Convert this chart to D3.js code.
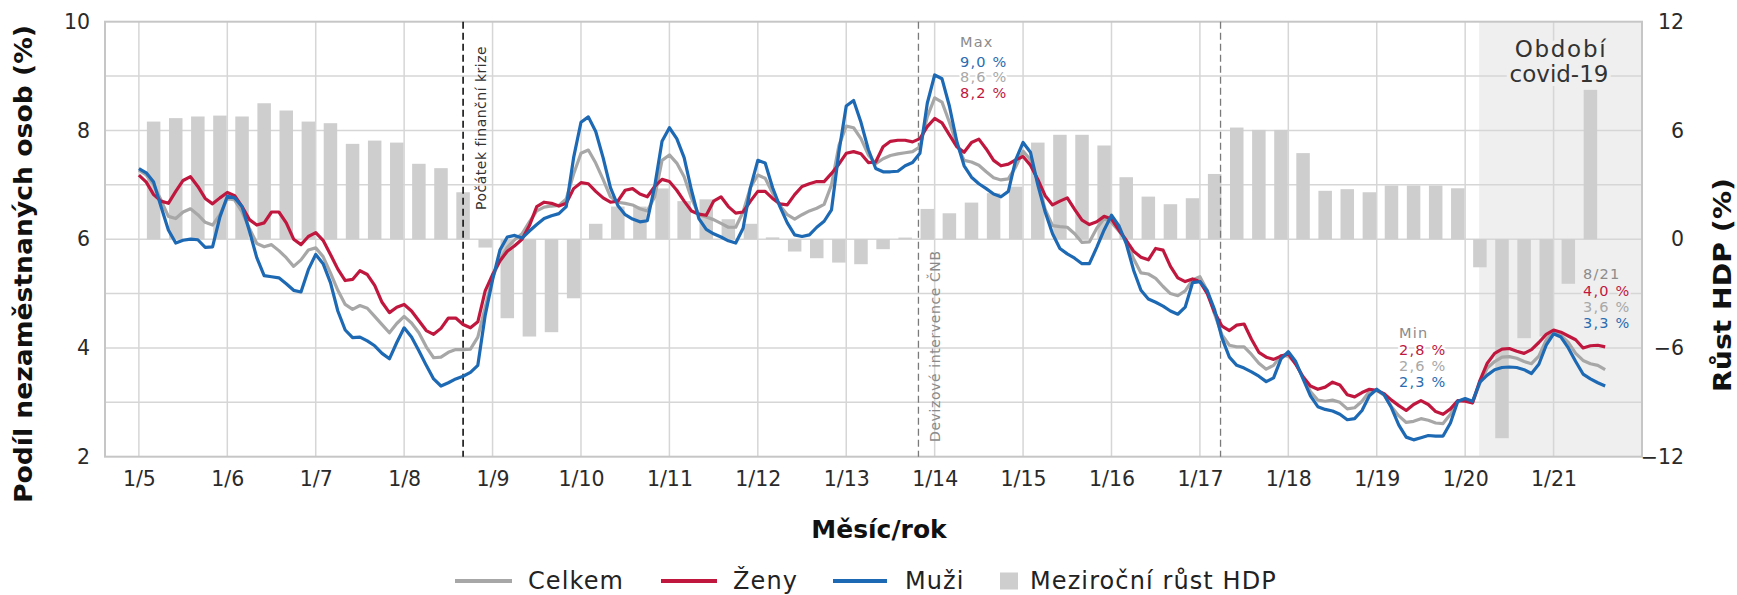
<!DOCTYPE html>
<html>
<head>
<meta charset="utf-8">
<script src="https://cdn.jsdelivr.net/npm/d3@7"></script>
<style>
  body { margin: 0; background: #fff; }
  svg { display: block; font-family: "DejaVu Sans", sans-serif; }
</style>
</head>
<body>
<svg width="1737" height="595"></svg>
<script>
// monthly unemployment share, 1/2005 .. 8/2021 (%)
var celkem = [
  7.27, 7.18, 7.0, 6.72, 6.42, 6.38, 6.5, 6.56, 6.45, 6.31,
  6.26, 6.45, 6.75, 6.72, 6.5, 6.2, 5.92, 5.86, 5.9, 5.79,
  5.66, 5.5, 5.62, 5.8, 5.84, 5.68, 5.38, 5.06, 4.8, 4.71,
  4.78, 4.73, 4.58, 4.43, 4.28, 4.45, 4.58, 4.46, 4.28, 4.02,
  3.82, 3.83, 3.92, 3.97, 3.97, 3.98, 4.2, 4.75, 5.3, 5.62,
  5.85, 5.99, 6.1, 6.32, 6.52, 6.59, 6.61, 6.62, 6.74, 7.2,
  7.58, 7.64, 7.4, 7.1, 6.78, 6.68, 6.66, 6.63, 6.56, 6.52,
  6.78, 7.45, 7.55, 7.4, 7.15, 6.75, 6.45, 6.41, 6.36, 6.29,
  6.22, 6.22, 6.5, 6.95, 7.18, 7.12, 6.85, 6.62, 6.45, 6.37,
  6.45, 6.52, 6.57, 6.64, 7.0, 7.72, 8.08, 8.05, 7.85, 7.55,
  7.39, 7.48, 7.54, 7.57, 7.59, 7.61, 7.7, 8.25, 8.6, 8.52,
  8.15, 7.75, 7.45, 7.42, 7.36, 7.24, 7.13, 7.09, 7.11, 7.33,
  7.62, 7.46, 7.05, 6.55, 6.25, 6.23, 6.22, 6.1, 5.94, 5.95,
  6.2, 6.38, 6.31, 6.15, 5.98, 5.64, 5.38, 5.36, 5.28, 5.13,
  5.0, 4.96, 5.05, 5.25, 5.31, 5.05, 4.62, 4.24, 4.05, 4.02,
  4.02, 3.88, 3.72, 3.61, 3.68, 3.86, 3.85, 3.72, 3.45, 3.2,
  3.04, 3.02, 3.04, 3.0, 2.88, 2.9, 3.02, 3.2, 3.22, 3.13,
  2.92, 2.75, 2.63, 2.65, 2.7, 2.67, 2.62, 2.61, 2.78, 3.02,
  3.05, 2.99, 3.35, 3.63, 3.75, 3.83, 3.84, 3.81, 3.75, 3.71,
  3.85, 4.15, 4.29, 4.23, 4.1, 3.9, 3.77, 3.71, 3.68, 3.6
];
var zeny = [
  7.18, 7.05, 6.82, 6.7, 6.66, 6.88, 7.08, 7.15, 6.97, 6.75,
  6.65, 6.76, 6.86, 6.8, 6.6, 6.36, 6.26, 6.3, 6.5, 6.5,
  6.3, 6.0, 5.9, 6.05, 6.12, 5.98, 5.72, 5.45, 5.24, 5.26,
  5.42, 5.35, 5.15, 4.84, 4.65, 4.75, 4.8, 4.68, 4.5, 4.32,
  4.25, 4.36, 4.55, 4.55, 4.43, 4.37, 4.48, 5.05, 5.35, 5.6,
  5.78, 5.88, 6.0, 6.25, 6.6, 6.68, 6.66, 6.61, 6.66, 6.93,
  7.04, 7.02, 6.88, 6.76, 6.68, 6.7, 6.9, 6.93, 6.83, 6.78,
  6.97, 7.1, 7.06, 6.9, 6.7, 6.52, 6.46, 6.44, 6.7, 6.78,
  6.6, 6.48, 6.5, 6.7, 6.88, 6.88, 6.75, 6.65, 6.63, 6.82,
  6.97, 7.02, 7.06, 7.06, 7.21, 7.38, 7.58, 7.61, 7.57, 7.41,
  7.42, 7.7, 7.8, 7.82, 7.82, 7.79, 7.85, 8.07, 8.22, 8.14,
  7.92, 7.7, 7.6, 7.78, 7.84, 7.66, 7.45, 7.35, 7.38, 7.46,
  7.52, 7.36, 7.1, 6.8, 6.63, 6.7, 6.76, 6.55, 6.35, 6.27,
  6.32, 6.42, 6.37, 6.17, 5.98, 5.78, 5.67, 5.62, 5.83, 5.8,
  5.5, 5.29, 5.22, 5.27, 5.22, 5.0, 4.65, 4.4, 4.32, 4.42,
  4.44, 4.16, 3.92, 3.83, 3.79, 3.85, 3.89, 3.7, 3.47, 3.3,
  3.24, 3.28, 3.37, 3.32, 3.14, 3.1, 3.18, 3.24, 3.22, 3.16,
  3.04, 2.94, 2.85, 2.96, 3.03, 2.96, 2.83, 2.78, 2.88, 3.03,
  3.02, 2.99, 3.4, 3.72, 3.9, 3.98, 3.99, 3.94, 3.9, 3.97,
  4.1, 4.25, 4.33, 4.29, 4.22, 4.15, 4.0, 4.04, 4.05, 4.02
];
var muzi = [
  7.3, 7.22, 7.05, 6.6, 6.17, 5.93, 5.98, 6.0, 5.99, 5.85,
  5.86, 6.41, 6.79, 6.76, 6.6, 6.15, 5.66, 5.33, 5.31, 5.29,
  5.18, 5.06, 5.03, 5.44, 5.72, 5.55, 5.2, 4.68, 4.33, 4.19,
  4.2, 4.13, 4.04, 3.9, 3.8, 4.1, 4.37, 4.2, 3.95, 3.68,
  3.43, 3.3, 3.36, 3.43, 3.48, 3.55, 3.68, 4.6, 5.25, 5.8,
  6.04, 6.07, 6.02, 6.15, 6.27, 6.38, 6.43, 6.47, 6.6, 7.5,
  8.15, 8.25, 7.98, 7.5, 6.95, 6.62, 6.45, 6.37, 6.32, 6.34,
  6.97, 7.8, 8.05, 7.85, 7.5, 6.9, 6.38, 6.18, 6.1, 6.04,
  5.97, 5.93, 6.2, 6.95, 7.45, 7.4, 6.95, 6.6, 6.3, 6.08,
  6.05, 6.08, 6.22, 6.33, 6.54, 7.6, 8.45, 8.55, 8.15, 7.65,
  7.3, 7.24, 7.24, 7.25, 7.35, 7.41, 7.58, 8.5, 9.02, 8.95,
  8.45, 7.8, 7.35, 7.14, 7.02, 6.93, 6.83, 6.78, 6.88, 7.46,
  7.78, 7.6, 7.0, 6.5, 6.1, 5.83, 5.73, 5.65, 5.55, 5.55,
  5.85, 6.17, 6.44, 6.25, 5.92, 5.43, 5.06, 4.9, 4.84, 4.77,
  4.68, 4.62, 4.75, 5.2, 5.22, 5.05, 4.7, 4.18, 3.83, 3.68,
  3.63, 3.56, 3.48, 3.38, 3.45, 3.8, 3.93, 3.75, 3.43, 3.12,
  2.92, 2.87, 2.84, 2.78, 2.68, 2.7, 2.85, 3.12, 3.24, 3.14,
  2.9, 2.58, 2.36, 2.31, 2.35, 2.39, 2.38, 2.38, 2.62, 3.02,
  3.07, 3.02, 3.37, 3.5, 3.6, 3.64, 3.65, 3.64, 3.6, 3.53,
  3.7, 4.05, 4.26, 4.2, 4.0, 3.75, 3.52, 3.43, 3.36, 3.3
];
// quarterly GDP growth y/y, Q1 2005 .. Q2 2021 (%)
var hdp = [
  6.49, 6.68, 6.77, 6.82,
  6.77, 7.5, 7.1, 6.49,
  6.4, 5.26, 5.44, 5.33,
  4.16, 3.92, 2.59, -0.46,
  -4.36, -5.37, -5.13, -3.26,
  0.85, 1.8, 1.8, 2.8,
  2.1, 2.2, 1.1, 0.85,
  0.1, -0.68, -1.05, -1.29,
  -1.38, -0.55, 0.09, 1.67,
  1.43, 2.02, 2.54, 2.9,
  5.33, 5.76, 5.76, 5.17,
  3.42, 2.35, 1.93, 2.26,
  3.6, 6.16, 6.03, 6.03,
  4.75, 2.67, 2.76, 2.59,
  2.96, 2.96, 2.96, 2.81,
  -1.55, -10.98, -5.46, -5.37,
  -2.46, 8.24
];
var tickLabels = ['1/5', '1/6', '1/7', '1/8', '1/9', '1/10', '1/11', '1/12', '1/13',
  '1/14', '1/15', '1/16', '1/17', '1/18', '1/19', '1/20', '1/21'];
var leftTicks = [2, 4, 6, 8, 10];
var rightTicks = [-12, -6, 0, 6, 12];
// month index counted from 1/2005
var events = [
  { label: 'Počátek finanční krize', month: 44 },
  { label: 'Devizové intervence ČNB', month: 105.8 },
  { label: '', month: 146.8 }
];
var covidStart = 181.9;

var svg = d3.select('svg');
var L = 105, R = 1642, T = 21.7, B = 456.7;
var barW = 13.5;

var x = d3.scaleLinear().domain([-4.6, 204]).range([L, R]);
var y = d3.scaleLinear().domain([2, 10]).range([B, T]);
var y2 = d3.scaleLinear().domain([-12, 12]).range([B, T]);

// covid period background
svg.append('rect')
  .attr('x', x(covidStart)).attr('y', T)
  .attr('width', R - x(covidStart)).attr('height', B - T)
  .attr('fill', '#efefef');

// grid
var grid = svg.append('g').attr('stroke', '#d6d6d6').attr('stroke-width', 1.5);
grid.selectAll('line.h')
  .data(d3.range(3, 10))
  .enter().append('line')
    .attr('x1', L).attr('x2', R)
    .attr('y1', function(d) { return y(d); })
    .attr('y2', function(d) { return y(d); });
grid.selectAll('line.v')
  .data(tickLabels)
  .enter().append('line')
    .attr('x1', function(d, i) { return x(i * 12); })
    .attr('x2', function(d, i) { return x(i * 12); })
    .attr('y1', T).attr('y2', B);

// GDP bars, centred on the last month of each quarter
svg.append('g').selectAll('rect')
  .data(hdp)
  .enter().append('rect')
    .attr('x', function(d, i) { return x(i * 3 + 2) - barW / 2; })
    .attr('y', function(d) { return y2(Math.max(0, d)); })
    .attr('width', barW)
    .attr('height', function(d) { return Math.abs(y2(d) - y2(0)); })
    .attr('fill', '#cecece');

// frame
svg.append('rect')
  .attr('x', L).attr('y', T).attr('width', R - L).attr('height', B - T)
  .attr('fill', 'none').attr('stroke', '#c6c6c6').attr('stroke-width', 2);

// event lines
svg.selectAll('line.event')
  .data(events)
  .enter().append('line')
    .attr('x1', function(d) { return x(d.month); })
    .attr('x2', function(d) { return x(d.month); })
    .attr('y1', T).attr('y2', B)
    .attr('stroke', function(d, i) { return i === 0 ? '#111' : '#7a7a7a'; })
    .attr('stroke-width', function(d, i) { return i === 0 ? 1.6 : 1.3; })
    .attr('stroke-dasharray', '7,4');

svg.append('text')
  .attr('transform', 'translate(' + (x(events[0].month) + 22.5) + ',210) rotate(-90)')
  .attr('font-size', 14).attr('letter-spacing', 0.5).attr('fill', '#333')
  .text(events[0].label);
svg.append('text')
  .attr('transform', 'translate(' + (x(events[1].month) + 22) + ',442) rotate(-90)')
  .attr('font-size', 14).attr('letter-spacing', 0.6).attr('fill', '#8a8a8a')
  .text(events[1].label);

// unemployment lines
var line = d3.line()
  .x(function(d, i) { return x(i); })
  .y(function(d) { return y(d); });

[[celkem, '#a7a7a7'], [zeny, '#c0173f'], [muzi, '#1d69b3']].forEach(function(s) {
  svg.append('path')
    .datum(s[0])
    .attr('d', line)
    .attr('fill', 'none')
    .attr('stroke', s[1])
    .attr('stroke-width', 3.2)
    .attr('stroke-linejoin', 'round');
});

// axes
var axL = svg.append('g')
  .attr('transform', 'translate(' + L + ',0)')
  .call(d3.axisLeft(y).tickValues(leftTicks).tickSize(0).tickPadding(15));
var axR = svg.append('g')
  .attr('transform', 'translate(' + R + ',0)')
  .call(d3.axisRight(y2).tickValues(rightTicks).tickSize(0).tickPadding(42));
axR.selectAll('text').attr('text-anchor', 'end');
var axB = svg.append('g')
  .attr('transform', 'translate(0,' + B + ')')
  .call(d3.axisBottom(x).tickValues(d3.range(0, tickLabels.length * 12, 12))
    .tickFormat(function(d, i) { return tickLabels[i]; })
    .tickSize(0).tickPadding(15));
[axL, axR, axB].forEach(function(ax) {
  ax.select('.domain').remove();
  ax.selectAll('text')
    .attr('font-family', '"DejaVu Sans", sans-serif')
    .attr('font-size', 20.5)
    .attr('fill', '#2a2a2a');
});

// axis titles
svg.append('text')
  .attr('transform', 'translate(32,264) rotate(-90)')
  .attr('text-anchor', 'middle').attr('font-size', 25).attr('font-weight', 'bold').attr('fill', '#111')
  .attr('textLength', 478).attr('lengthAdjust', 'spacingAndGlyphs')
  .text('Podíl nezaměstnaných osob (%)');
svg.append('text')
  .attr('transform', 'translate(1731,285) rotate(-90)')
  .attr('text-anchor', 'middle').attr('font-size', 25).attr('font-weight', 'bold').attr('fill', '#111')
  .attr('textLength', 214).attr('lengthAdjust', 'spacingAndGlyphs')
  .text('Růst HDP (%)');
svg.append('text')
  .attr('x', 879).attr('y', 538)
  .attr('text-anchor', 'middle').attr('font-size', 25).attr('font-weight', 'bold').attr('fill', '#111')
  .text('Měsíc/rok');

// annotations
function note(lines, xPos, ys, halo) {
  var g = svg.append('g')
    .attr('font-size', 14.5).attr('letter-spacing', 1.2);
  lines.forEach(function(l, i) {
    g.append('text')
      .attr('x', xPos).attr('y', ys[i])
      .attr('fill', l[1])
      .attr('stroke', halo).attr('stroke-width', 4).attr('paint-order', 'stroke')
      .text(l[0]);
  });
}
var cGray = '#8c8c8c', cRed = '#c0173f', cLight = '#a8a8a8', cBlue = '#2b6cb0';
note([['Max', cGray], ['9,0 %', cBlue], ['8,6 %', cLight], ['8,2 %', cRed]],
  960, [47, 66.5, 82, 98], '#fff');
note([['Min', cGray], ['2,8 %', cRed], ['2,6 %', cLight], ['2,3 %', cBlue]],
  1399, [338, 355, 371, 387], '#fff');
note([['8/21', cGray], ['4,0 %', cRed], ['3,6 %', cLight], ['3,3 %', cBlue]],
  1583, [279, 296, 312, 328], '#efefef');

var covidLabel = svg.append('g')
  .attr('font-size', 23).attr('fill', '#333').attr('text-anchor', 'middle');
covidLabel.append('text').attr('x', 1561).attr('y', 57).attr('letter-spacing', 1.7)
  .attr('stroke', '#efefef').attr('stroke-width', 8).attr('paint-order', 'stroke')
  .text('Období');
covidLabel.append('text').attr('x', 1559).attr('y', 82)
  .attr('stroke', '#efefef').attr('stroke-width', 8).attr('paint-order', 'stroke')
  .text('covid-19');

// legend
var legend = svg.append('g').attr('font-size', 24).attr('letter-spacing', 1.1).attr('fill', '#222');
var legendItems = [
  { label: 'Celkem', color: '#a7a7a7', x0: 455, x1: 512, tx: 528 },
  { label: 'Ženy', color: '#c0173f', x0: 661, x1: 717, tx: 733 },
  { label: 'Muži', color: '#1d69b3', x0: 833, x1: 887, tx: 905 }
];
legendItems.forEach(function(d) {
  legend.append('line')
    .attr('x1', d.x0).attr('x2', d.x1).attr('y1', 581).attr('y2', 581)
    .attr('stroke', d.color).attr('stroke-width', 4);
  legend.append('text').attr('x', d.tx).attr('y', 589).text(d.label);
});
legend.append('rect')
  .attr('x', 1000).attr('y', 572.5).attr('width', 18).attr('height', 17)
  .attr('fill', '#cecece');
legend.append('text').attr('x', 1030).attr('y', 589).text('Meziroční růst HDP');
</script>
</body>
</html>
